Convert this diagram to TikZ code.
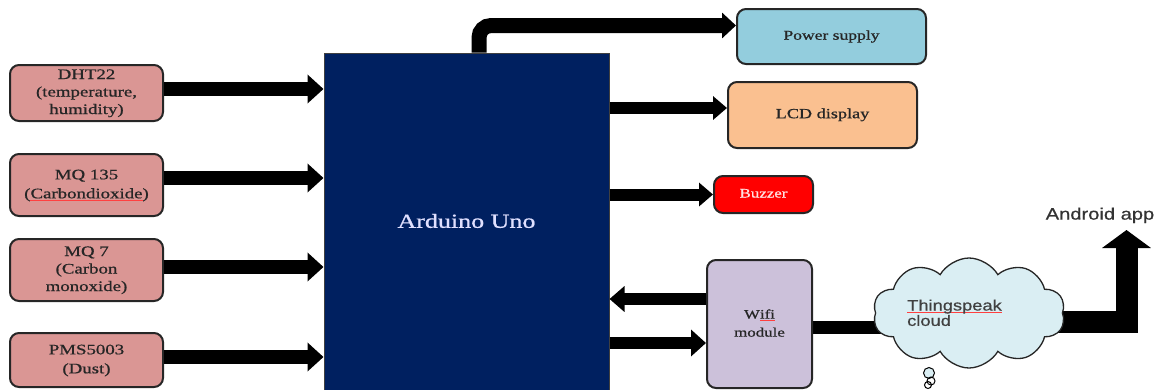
\documentclass[tikz,border=0pt]{standalone}
\usepackage{fontspec}
\setmainfont{Liberation Serif}[FakeBold=0.7]
\newfontfamily\arialf{Liberation Sans}[FakeBold=0.5]
\usepackage{graphicx}
\usetikzlibrary{arrows.meta,shapes.symbols,backgrounds}
\definecolor{sensc}{HTML}{DA9694}
\definecolor{ardc}{HTML}{002060}
\definecolor{powc}{HTML}{93CDDD}
\definecolor{lcdc}{HTML}{FAC090}
\definecolor{buzc}{HTML}{FF0000}
\definecolor{wific}{HTML}{CCC1DA}
\definecolor{cloudc}{HTML}{DAEEF3}
\definecolor{txtc}{HTML}{262626}
\newcommand\wtxt[2][c]{\scalebox{1.3}[1]{\begin{tabular}{@{}#1@{}}#2\end{tabular}}}
\newcommand\swtxt[2][c]{\scalebox{1.22}[1]{\begin{tabular}{@{}#1@{}}#2\end{tabular}}}
\newcommand\spell[1]{\setbox0\hbox{#1}\rlap{\textcolor{red!75}{\rule[-2.2pt]{\wd0}{0.6pt}}}\box0}
\tikzset{
  sensor/.style={draw=black!85, line width=2pt, fill=sensc, rounded corners=9pt,
    minimum width=153pt, inner sep=0pt, text=txtc},
  outbox/.style={draw=black!85, line width=2pt, rounded corners=9pt, inner sep=0pt, text=txtc},
  arrL/.style={line width=14pt, -{Triangle[width=28pt,length=16pt]}},
  arrR/.style={line width=12pt, -{Triangle[width=23pt,length=14pt]}},
}
\begin{document}
\begin{tikzpicture}[x=1pt,y=-1pt]
\useasboundingbox (0,0) rectangle (1159,389);
% sensors
\node[sensor, minimum height=56pt] (dht) at (86.5,93)
  {\fontsize{14.5}{17.5}\selectfont\wtxt{DHT22\\(temperature,\\humidity)}};
\node[sensor, minimum height=62pt] (mq135) at (86.5,185)
  {\fontsize{14.5}{19}\selectfont\wtxt{MQ 135\\(\spell{Carbondioxide})}};
\node[sensor, minimum height=62pt] (mq7) at (86.5,270)
  {\fontsize{14.5}{17.5}\selectfont\wtxt{MQ 7\\(Carbon\\monoxide)}};
\node[sensor, minimum height=54pt] (pms) at (86.5,360)
  {\fontsize{14.5}{19}\selectfont\wtxt{PMS5003\\(Dust)}};
% arduino
\node[draw=black!75, line width=1pt, fill=ardc, minimum width=285pt, minimum height=340pt,
  inner sep=0pt, text=white!88!blue] (ard) at (466.5,223)
  {\fontsize{20}{24}\selectfont\wtxt{Arduino Uno}};
% outputs
\node[outbox, fill=powc, minimum width=189pt, minimum height=55pt] (power) at (831.5,36.5)
  {\fontsize{13.5}{16}\selectfont\wtxt{Power supply}};
\node[outbox, fill=lcdc, minimum width=189pt, minimum height=66pt] (lcd) at (822.5,115)
  {\fontsize{14}{16}\selectfont\wtxt{LCD display}};
\node[outbox, fill=buzc, minimum width=99pt, minimum height=37pt, text=red!12!white] (buzzer) at (763.5,194.5)
  {\fontsize{13}{15}\selectfont\wtxt{Buzzer}};
\node[outbox, fill=wific, minimum width=105pt, minimum height=128pt] (wifi) at (759.5,324)
  {\fontsize{13}{18}\selectfont\wtxt{W\spell{ifi}\\module}};
% cloud
\node[cloud, cloud puffs=10, cloud puff arc=120, aspect=1.75, draw=black!85, line width=1.3pt,
  fill=cloudc, minimum width=192pt, minimum height=110pt, inner sep=0pt] (cloud) at (969,313) {};
\node[anchor=west, text=black!75, inner sep=0pt] (ctext) at (907,315)
  {\arialf\fontsize{15}{15}\selectfont\swtxt[l]{\spell{Thingspeak}\\cloud}};
\draw[line width=1pt, fill=cloudc] (929,373) circle (5.5pt);
\draw[line width=1pt] (931,381) circle (4pt);
\draw[line width=1pt] (928,385) circle (3.5pt);
\node[text=black!80, inner sep=0pt] (andt) at (1100,216)
  {\arialf\fontsize{16.5}{18}\selectfont\swtxt{Android app}};
% sensor arrows
\foreach \s/\d in {dht/4, mq135/7, mq7/3, pms/3}{
  \coordinate (\s o) at ([yshift=\d pt]\s.east);
  \draw[arrL] (\s o) -- (\s o -| ard.west);
}
% power arrow
\coordinate (px) at (479,0);
\coordinate (pw) at ([yshift=11pt]power.west);
\draw[line width=15pt, rounded corners=12pt, -{Triangle[width=25pt,length=14pt]}]
  (px |- ard.north) |- (pw);
% lcd and buzzer
\coordinate (lw) at ([yshift=7pt]lcd.west);
\draw[arrR] (lw -| ard.east) -- (lw);
\draw[arrR] (buzzer.west -| ard.east) -- (buzzer.west);
% wifi arrows
\coordinate (w1) at ([yshift=25pt]wifi.west);
\coordinate (w2) at ([yshift=-19pt]wifi.west);
\draw[arrR, -{Triangle[width=25pt,length=15pt]}] (w1) -- (w1 -| ard.east);
\draw[arrR, -{Triangle[width=26pt,length=15pt]}] (w2 -| ard.east) -- (w2);
% lines behind cloud
\begin{scope}[on background layer]
\coordinate (wc) at ([yshift=-3pt]wifi.east);
\draw[line width=13pt] (wc) -- (wc -| cloud.center);
\coordinate (c1) at ([yshift=-9pt]cloud.center);
\coordinate (atip) at (1126.5,230);
\draw[line width=22pt, -{Triangle[width=48pt,length=18pt]}] (c1) -| (atip);
\end{scope}
\end{tikzpicture}
\end{document}
